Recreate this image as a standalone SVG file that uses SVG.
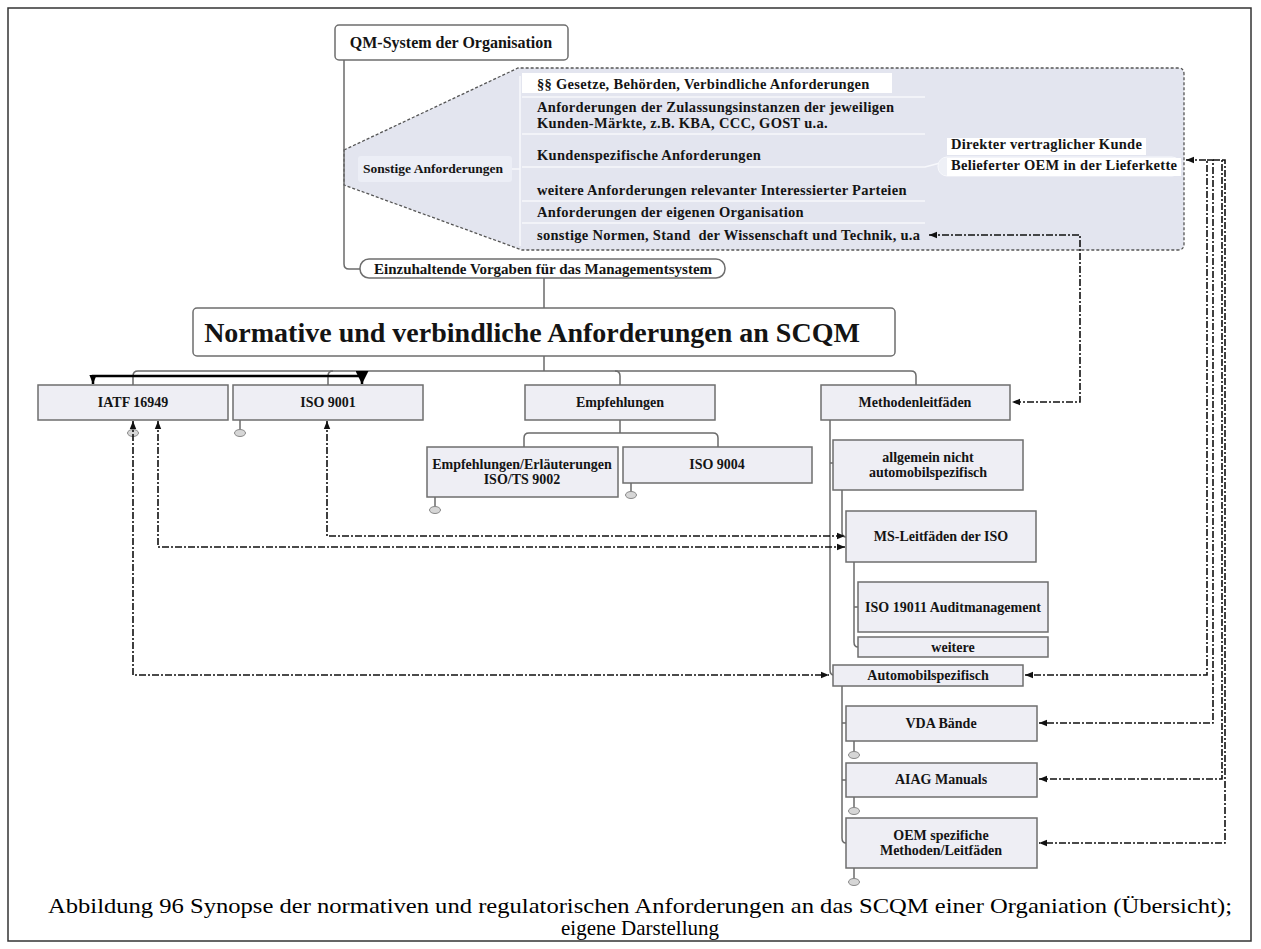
<svg xmlns="http://www.w3.org/2000/svg" width="1261" height="949" viewBox="0 0 1261 949">
<defs>
<style>
.t{font-family:"Liberation Serif","Times New Roman",serif;font-weight:bold;fill:#141414}
.bx{font-size:14px;text-anchor:middle}
.bl{font-size:14.5px;letter-spacing:0.3px}
.box{fill:#eeeef4;stroke:#6e6e6e;stroke-width:1.5}
.tree{fill:none;stroke:#6b6b6b;stroke-width:1.5}
.dd{fill:none;stroke:#111;stroke-width:1.6;stroke-dasharray:7 2 2 2}
.sep{stroke:#f7f8fc;stroke-width:1.6;fill:none}
.knob{fill:#d6d6d6;stroke:#888;stroke-width:1}
.cap{font-family:"Liberation Serif","Times New Roman",serif;font-size:21px;fill:#000;text-anchor:middle}
</style>
<marker id="arr" viewBox="0 0 10 10" refX="10" refY="5" markerWidth="8" markerHeight="8" markerUnits="userSpaceOnUse" orient="auto-start-reverse"><path d="M0,1 L10,5 L0,9 Z" fill="#111"/></marker>
<marker id="arrS" viewBox="0 0 10 10" refX="10" refY="5" markerWidth="9" markerHeight="9" markerUnits="userSpaceOnUse" orient="auto-start-reverse"><path d="M0,1 L10,5 L0,9 Z" fill="#000"/></marker>
<marker id="arrB" viewBox="0 0 10 10" refX="10" refY="5" markerWidth="13" markerHeight="13" markerUnits="userSpaceOnUse" orient="auto-start-reverse"><path d="M0,0 L10,5 L0,10 Z" fill="#000"/></marker>
</defs>
<rect width="1261" height="949" fill="#fff"/>
<rect x="8" y="8" width="1243" height="933" fill="none" stroke="#333" stroke-width="1.5"/>

<g id="sonstige-bereich">
<path d="M344,150 L518,68 H1178 Q1184,68 1184,74 V244 Q1184,250 1178,250 H522 L344,185 Z" fill="#e3e5ef" stroke="#555" stroke-width="1.3" stroke-dasharray="3 2"/>
<rect x="358" y="156" width="154" height="26" rx="3" fill="#eceef6"/>
<path class="sep" d="M512,169 H520 M520,76 V246 M522,97 H925 M522,134 H925 M522,167 H925 L940,163 M522,201 H925 M522,223 H925"/>
<rect x="522" y="73" width="370" height="20" fill="#fff"/>
<rect x="947" y="138" width="199" height="17" fill="#fff"/>
<rect x="938" y="157" width="243" height="19" rx="9" fill="#eef0f6" stroke="#f7f8fc"/>
<rect x="947" y="158" width="234" height="18" fill="#fff"/>
<text class="t" x="363" y="173" style="font-size:13.5px">Sonstige Anforderungen</text>
<text class="t bl" x="537" y="89">§§ Gesetze, Behörden, Verbindliche Anforderungen</text>
<text class="t bl" x="537" y="112">Anforderungen der Zulassungsinstanzen der jeweiligen</text>
<text class="t bl" x="537" y="128">Kunden-Märkte, z.B. KBA, CCC, GOST u.a.</text>
<text class="t bl" x="537" y="160">Kundenspezifische Anforderungen</text>
<text class="t bl" x="537" y="195">weitere Anforderungen relevanter Interessierter Parteien</text>
<text class="t bl" x="537" y="217">Anforderungen der eigenen Organisation</text>
<text class="t bl" x="537" y="240" xml:space="preserve">sonstige Normen, Stand  der Wissenschaft und Technik, u.a</text>
<text class="t bl" x="951" y="149">Direkter vertraglicher Kunde</text>
<text class="t bl" x="951" y="170">Belieferter OEM in der Lieferkette</text>
</g>

<g id="connectors">
<path class="tree" d="M344,60 V264 Q344,269 349,269 H360"/>
<path class="tree" d="M544,278 V308 M544,356 V371"/>
<path class="tree" d="M133,385 V376 Q133,371 138,371 H911 Q916,371 916,376 V385"/>
<path class="tree" d="M328,385 V376 Q328,371 333,371"/>
<path class="tree" d="M615,371 Q620,371 620,376 V385"/>
<path class="tree" d="M620,420 V433 M524,447 V438 Q524,433 529,433 H713 Q718,433 718,438 V447"/>
<path class="tree" d="M830,420 V670 Q830,675 834,675 M830,463 H833"/>
<path class="tree" d="M842,490 V532 Q842,537 846,537"/>
<path class="tree" d="M854,562 V642 Q854,647 858,647 M854,607 H858"/>
<path class="tree" d="M842,686 V838 Q842,843 846,843 M842,723 H846 M842,780 H846"/>
<path class="tree" d="M240,420 V430 M435,497 V507 M631,483 V492 M854,741 V752 M854,797 V808 M854,868 V879"/>
<ellipse class="knob" cx="133" cy="433" rx="5.5" ry="3.5"/>
<ellipse class="knob" cx="240" cy="433" rx="5.5" ry="3.5"/>
<ellipse class="knob" cx="435" cy="510" rx="5.5" ry="3.5"/>
<ellipse class="knob" cx="631" cy="495" rx="5.5" ry="3.5"/>
<ellipse class="knob" cx="854" cy="755" rx="5.5" ry="3.5"/>
<ellipse class="knob" cx="854" cy="811" rx="5.5" ry="3.5"/>
<ellipse class="knob" cx="854" cy="882" rx="5.5" ry="3.5"/>
<path d="M93,384 V376 H362 V384" fill="none" stroke="#000" stroke-width="2.5" marker-start="url(#arrS)" marker-end="url(#arrB)"/>
<path class="dd" d="M929,235 H1080 V402 H1012" marker-start="url(#arr)" marker-end="url(#arr)"/>
<path class="dd" d="M1186,160 H1207 V675 H1025" marker-start="url(#arr)" marker-end="url(#arr)"/>
<path class="dd" d="M1207,160 H1213 V723 H1039" marker-end="url(#arr)"/>
<path class="dd" d="M1213,160 H1222 V779 H1039" marker-end="url(#arr)"/>
<path class="dd" d="M1222,160 H1225 V843 H1039" marker-end="url(#arr)"/>
<path class="dd" d="M133,421 V675 H829" marker-start="url(#arr)" marker-end="url(#arr)"/>
<path class="dd" d="M158,421 V547 H845" marker-start="url(#arr)" marker-end="url(#arr)"/>
<path class="dd" d="M327,421 V536 H845" marker-start="url(#arr)" marker-end="url(#arr)"/>
</g>

<g id="qm-system">
<rect x="335" y="25" width="233" height="35" rx="4" fill="#fff" stroke="#6e6e6e" stroke-width="1.5"/>
<text class="t" x="451" y="48" style="font-size:16px" text-anchor="middle">QM-System der Organisation</text>
</g>
<g id="einzuhaltende">
<rect x="360" y="259" width="365" height="19" rx="9" fill="#fff" stroke="#6e6e6e" stroke-width="1.5"/>
<text class="t" x="543" y="274" style="font-size:15px" text-anchor="middle">Einzuhaltende Vorgaben für das Managementsystem</text>
</g>
<g id="normative">
<rect x="193" y="308" width="702" height="48" rx="4" fill="#fff" stroke="#6e6e6e" stroke-width="1.5"/>
<text class="t" x="532" y="342" style="font-size:28px" text-anchor="middle">Normative und verbindliche Anforderungen an SCQM</text>
</g>
<g id="iatf"><rect class="box" x="38" y="385" width="190" height="35"/><text class="t bx" x="133" y="407">IATF 16949</text></g>
<g id="iso9001"><rect class="box" x="233" y="385" width="190" height="35"/><text class="t bx" x="328" y="407">ISO 9001</text></g>
<g id="empfehlungen"><rect class="box" x="525" y="385" width="190" height="35"/><text class="t bx" x="620" y="407">Empfehlungen</text></g>
<g id="methoden"><rect class="box" x="821" y="385" width="189" height="35"/><text class="t bx" x="915" y="407">Methodenleitfäden</text></g>
<g id="iso9002"><rect class="box" x="427" y="447" width="191" height="50"/><text class="t bx" x="522" y="469">Empfehlungen/Erläuterungen</text><text class="t bx" x="522" y="484">ISO/TS 9002</text></g>
<g id="iso9004"><rect class="box" x="623" y="447" width="189" height="36"/><text class="t bx" x="717" y="469">ISO 9004</text></g>
<g id="allgemein"><rect class="box" x="833" y="440" width="190" height="50"/><text class="t bx" x="928" y="462">allgemein nicht</text><text class="t bx" x="928" y="477">automobilspezifisch</text></g>
<g id="ms-leitfaeden"><rect class="box" x="846" y="511" width="190" height="51"/><text class="t bx" x="941" y="541">MS-Leitfäden der ISO</text></g>
<g id="iso19011"><rect class="box" x="858" y="582" width="190" height="50"/><text class="t bx" x="953" y="612">ISO 19011 Auditmanagement</text></g>
<g id="weitere"><rect class="box" x="858" y="637" width="190" height="20"/><text class="t bx" x="953" y="652">weitere</text></g>
<g id="automobil"><rect class="box" x="833" y="665" width="190" height="21"/><text class="t bx" x="928" y="680">Automobilspezifisch</text></g>
<g id="vda"><rect class="box" x="846" y="706" width="191" height="35"/><text class="t bx" x="941" y="728">VDA Bände</text></g>
<g id="aiag"><rect class="box" x="846" y="763" width="191" height="34"/><text class="t bx" x="941" y="784">AIAG Manuals</text></g>
<g id="oem"><rect class="box" x="846" y="818" width="191" height="50"/><text class="t bx" x="941" y="840">OEM spezifiche</text><text class="t bx" x="941" y="855">Methoden/Leitfäden</text></g>

<g id="caption">
<text class="cap" x="640" y="913" textLength="1184" lengthAdjust="spacingAndGlyphs">Abbildung 96 Synopse der normativen und regulatorischen Anforderungen an das SCQM einer Organiation (Übersicht);</text>
<text class="cap" x="640" y="935">eigene Darstellung</text>
</g>
</svg>
